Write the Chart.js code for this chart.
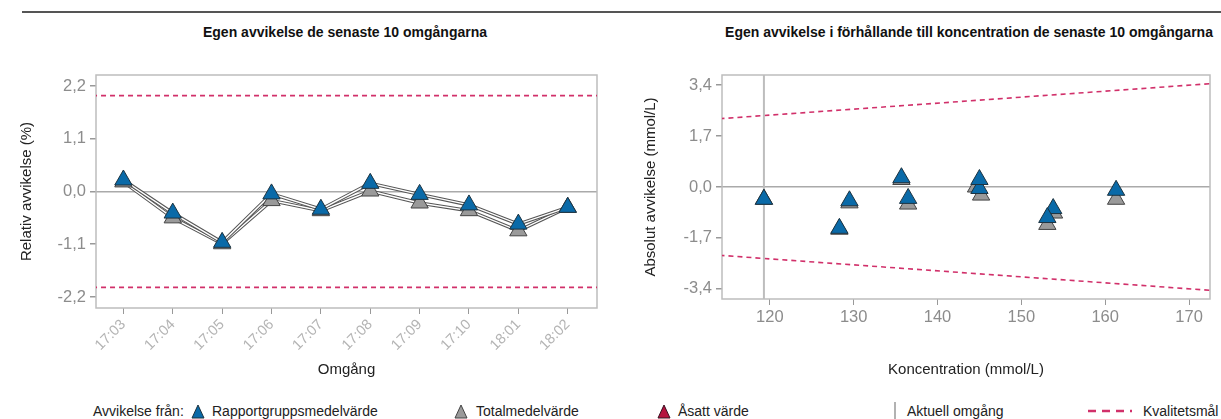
<!DOCTYPE html>
<html>
<head>
<meta charset="utf-8">
<script src="https://cdn.jsdelivr.net/npm/chart.js@4"></script>
<style>
  body { margin: 0; background: #fff; font-family: "Liberation Sans", Arial, sans-serif; }
  #page { position: relative; width: 1221px; height: 419px; overflow: hidden; }
  .topline { position: absolute; left: 22px; top: 11px; width: 1199px; height: 2px; background: #555; }
  .title { position: absolute; top: 24px; font-weight: bold; font-size: 14px; color: #111; white-space: nowrap; transform: translateX(-50%); }
  canvas { position: absolute; top: 0; }
  .leg { position: absolute; top: 403px; font-size: 14px; color: #222; white-space: nowrap; line-height: 16px; }
  .leg svg { position: absolute; }
</style>
</head>
<body>
<div id="page">
  <div class="topline"></div>
  <div class="title" style="left:345px">Egen avvikelse de senaste 10 omgångarna</div>
  <div class="title" style="left:969px">Egen avvikelse i förhållande till koncentration de senaste 10 omgångarna</div>
  <canvas id="relChart" width="610" height="390" style="left:0"></canvas>
  <canvas id="absChart" width="611" height="390" style="left:610px"></canvas>

  <div class="leg" style="left:93px">Avvikelse från:</div>
  <svg class="leg" style="left:191px;top:404px" width="14" height="15"><polygon points="7,1 13,14 1,14" fill="#0a6aa8" stroke="#1d3340" stroke-width="1"/></svg>
  <div class="leg" style="left:212px">Rapportgruppsmedelvärde</div>
  <svg class="leg" style="left:454px;top:404px" width="14" height="15"><polygon points="7,1 13,14 1,14" fill="#9a9a9a" stroke="#444" stroke-width="1"/></svg>
  <div class="leg" style="left:476px">Totalmedelvärde</div>
  <svg class="leg" style="left:657px;top:404px" width="14" height="15"><polygon points="7,1 13,14 1,14" fill="#b5123f" stroke="#3a1020" stroke-width="1"/></svg>
  <div class="leg" style="left:678px">Åsatt värde</div>
  <svg class="leg" style="left:893px;top:402px" width="4" height="17"><line x1="2" y1="0" x2="2" y2="17" stroke="#999" stroke-width="1.5"/></svg>
  <div class="leg" style="left:907px">Aktuell omgång</div>
  <svg class="leg" style="left:1088px;top:404px" width="44" height="14"><line x1="0" y1="7" x2="44" y2="7" stroke="#d1306a" stroke-width="2.5" stroke-dasharray="8,6"/></svg>
  <div class="leg" style="left:1143px">Kvalitetsmål</div>
</div>

<script>
// --- data ---
const rounds = ['17:03', '17:04', '17:05', '17:06', '17:07', '17:08', '17:09', '17:10', '18:01', '18:02'];
const relRapport = [0.24, -0.45, -1.06, -0.05, -0.37, 0.17, -0.06, -0.28, -0.68, -0.33];
const relTotal = [0.20, -0.55, -1.09, -0.19, -0.40, 0.01, -0.24, -0.40, -0.82, -0.33];
const relLimit = 2.0;
const relTicks = [-2.2, -1.1, 0, 1.1, 2.2];

const concRapport = [135.7, 153.8, 128.3, 145.0, 129.5, 145.0, 161.3, 136.5, 153.1, 119.3];
const absRapport = [0.31, -0.72, -1.38, -0.05, -0.46, 0.25, -0.11, -0.38, -1.02, -0.41];
const concTotal = [135.7, 153.9, 128.3, 145.2, 129.5, 144.6, 161.3, 136.5, 153.1, 119.3];
const absTotal = [0.25, -0.87, -1.41, -0.27, -0.53, 0.00, -0.41, -0.57, -1.25, -0.41];
const currentConc = 119.3;
const limitConc = [114, 173];
const limitUpper = [2.28, 3.46];
const limitLower = [-2.28, -3.46];
const absTicks = [-3.4, -1.7, 0, 1.7, 3.4];
const concTicks = [120, 130, 140, 150, 160, 170];

const FONT = '"Liberation Sans", Arial, sans-serif';
const BLUE = '#0a6aa8';
const GRAY = '#9a9a9a';
const RED = '#d1306a';
const fmt = v => v.toFixed(1).replace('.', ',');

// frame around the plot area
const boxPlugin = {
  id: 'box',
  beforeDatasetsDraw(chart) {
    const a = chart.chartArea;
    const ctx = chart.ctx;
    ctx.save();
    ctx.strokeStyle = '#bdbdbd';
    ctx.lineWidth = 1.5;
    ctx.strokeRect(a.left, a.top, a.right - a.left, a.bottom - a.top);
    ctx.restore();
  }
};

function yAxis(min, max, ticks, title, titlePad, width) {
  return {
    type: 'linear', min: min, max: max,
    afterBuildTicks: s => { s.ticks = ticks.map(v => ({ value: v })); },
    afterFit: s => { s.width = width; },
    border: { display: false },
    grid: {
      color: c => (c.tick && c.tick.value === 0 ? '#aaaaaa' : 'transparent'),
      lineWidth: 1.5, tickColor: '#999', tickLength: 6
    },
    ticks: { color: '#8c8c8c', font: { family: FONT, size: 16.5 }, padding: 4, callback: v => fmt(v) },
    title: { display: true, text: title, color: '#222', font: { family: FONT, size: 15 }, padding: { top: titlePad } }
  };
}

// helper for the "double" line look: dark wide stroke with a white core
function lineSets(data, order) {
  return [
    { data: data, borderColor: '#555', borderWidth: 3.5, pointRadius: 0, showLine: true, order: order + 1 },
    { data: data, borderColor: '#fff', borderWidth: 1.4, pointRadius: 0, showLine: true, order: order }
  ];
}

function pointSet(data, color, stroke, order) {
  return {
    data: data, showLine: false, pointStyle: 'triangle', pointRadius: 10,
    pointBackgroundColor: color, pointBorderColor: stroke, pointBorderWidth: 1, order: order
  };
}

const relTot = relTotal.map((v, i) => ({ x: i, y: v }));
const relRap = relRapport.map((v, i) => ({ x: i, y: v }));

new Chart(document.getElementById('relChart'), {
  type: 'scatter',
  data: {
    datasets: [
      { data: [{ x: -1, y: relLimit }, { x: 10, y: relLimit }], showLine: true, borderColor: RED, borderWidth: 1.6, borderDash: [5, 4], pointRadius: 0, order: 20 },
      { data: [{ x: -1, y: -relLimit }, { x: 10, y: -relLimit }], showLine: true, borderColor: RED, borderWidth: 1.6, borderDash: [5, 4], pointRadius: 0, order: 20 },
      ...lineSets(relTot, 10),
      ...lineSets(relRap, 8),
      pointSet(relTot, GRAY, '#444', 2),
      pointSet(relRap, BLUE, '#1d3340', 1)
    ]
  },
  options: {
    responsive: false, animation: false, devicePixelRatio: 1,
    layout: { padding: { top: 75, right: 13, left: 0, bottom: 0 } },
    plugins: { legend: { display: false }, tooltip: { enabled: false } },
    scales: {
      x: {
        type: 'linear', min: -0.555, max: 9.593,
        afterBuildTicks: s => { s.ticks = rounds.map((r, i) => ({ value: i })); },
        afterFit: s => { s.height = 82; },
        border: { display: false },
        grid: { drawOnChartArea: false, tickColor: '#999', tickLength: 6 },
        ticks: { color: '#b4b4b4', font: { family: FONT, size: 14.5 }, minRotation: 45, maxRotation: 45, padding: 2, callback: v => rounds[v] },
        title: { display: true, text: 'Omgång', color: '#222', font: { family: FONT, size: 15 }, padding: { bottom: 11 } }
      },
      y: yAxis(-2.43, 2.43, relTicks, 'Relativ avvikelse (%)', 18, 96)
    }
  },
  plugins: [boxPlugin]
});

const absRap = concRapport.map((c, i) => ({ x: c, y: absRapport[i] }));
const absTot = concTotal.map((c, i) => ({ x: c, y: absTotal[i] }));

new Chart(document.getElementById('absChart'), {
  type: 'scatter',
  data: {
    datasets: [
      { data: limitConc.map((c, i) => ({ x: c, y: limitUpper[i] })), showLine: true, borderColor: RED, borderWidth: 1.6, borderDash: [5, 4], pointRadius: 0, order: 20 },
      { data: limitConc.map((c, i) => ({ x: c, y: limitLower[i] })), showLine: true, borderColor: RED, borderWidth: 1.6, borderDash: [5, 4], pointRadius: 0, order: 20 },
      { data: [{ x: currentConc, y: -4 }, { x: currentConc, y: 4 }], showLine: true, borderColor: '#bdbdbd', borderWidth: 2, pointRadius: 0, order: 19 },
      pointSet(absTot, GRAY, '#444', 2),
      pointSet(absRap, BLUE, '#1d3340', 1)
    ]
  },
  options: {
    responsive: false, animation: false, devicePixelRatio: 1,
    layout: { padding: { top: 75, right: 5, left: 0, bottom: 0 } },
    plugins: { legend: { display: false }, tooltip: { enabled: false } },
    scales: {
      x: {
        type: 'linear', min: 114.3, max: 172.5,
        afterBuildTicks: s => { s.ticks = concTicks.map(v => ({ value: v })); },
        afterFit: s => { s.height = 91; },
        border: { display: false },
        grid: { drawOnChartArea: false, tickColor: '#999', tickLength: 6 },
        ticks: { color: '#8c8c8c', font: { family: FONT, size: 16.5 }, maxRotation: 0, padding: 3 },
        title: { display: true, text: 'Koncentration (mmol/L)', color: '#222', font: { family: FONT, size: 15 }, padding: { bottom: 11 } }
      },
      y: yAxis(-3.74, 3.74, absTicks, 'Absolut avvikelse (mmol/L)', 32, 112)
    }
  },
  plugins: [boxPlugin]
});
</script>
</body>
</html>
